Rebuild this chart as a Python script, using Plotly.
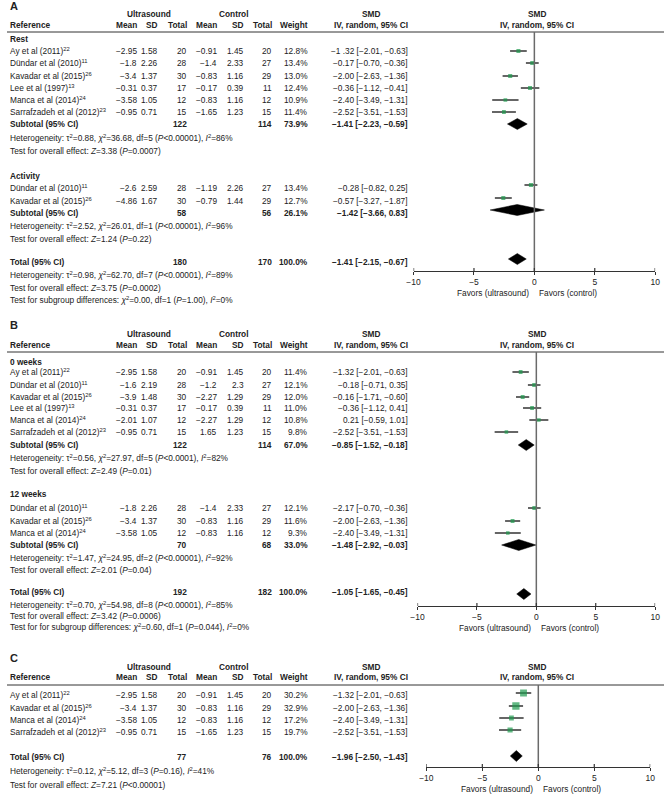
import plotly.graph_objects as go

W, H = 669, 794
FONT = "Liberation Sans, Arial, Helvetica, sans-serif"
MINUS = "\u2212"
GREEN = "#1f9a4f"
INK = "#222222"
LINE = "#333333"
FS = 8.3

# ======================= DATA =======================
# ---- Panel A : Rest ----
a_rest_study = ["Ay et al (2011)", "Dündar et al (2010)", "Kavadar et al (2015)",
                "Lee et al (1997)", "Manca et al (2014)", "Sarrafzadeh et al (2012)"]
a_rest_ref = [22, 11, 26, 13, 24, 23]
a_rest_us_mean = [-2.95, -1.8, -3.4, -0.31, -3.58, -0.95]
a_rest_us_sd = [1.58, 2.26, 1.37, 0.37, 1.05, 0.71]
a_rest_us_n = [20, 28, 30, 17, 12, 15]
a_rest_ct_mean = [-0.91, -1.4, -0.83, -0.17, -0.83, -1.65]
a_rest_ct_sd = [1.45, 2.33, 1.16, 0.39, 1.16, 1.23]
a_rest_ct_n = [20, 27, 29, 11, 12, 15]
a_rest_weight = [12.8, 13.4, 13.0, 12.4, 10.9, 11.4]
a_rest_smd = [-1.32, -0.17, -2.00, -0.36, -2.40, -2.52]
a_rest_lo = [-2.01, -0.70, -2.63, -1.12, -3.49, -3.51]
a_rest_hi = [-0.63, 0.36, -1.36, 0.41, -1.31, -1.53]
a_rest_ci_text = ["−1 .32 [−2.01, −0.63]", "−0.17 [−0.70, −0.36]", "−2.00 [−2.63, −1.36]",
                  "−0.36 [−1.12, −0.41]", "−2.40 [−3.49, −1.31]", "−2.52 [−3.51, −1.53]"]
a_rest_sub_n = [122, 114]
a_rest_sub_weight = 73.9
a_rest_sub_est = [-1.41, -2.23, -0.59]
a_rest_sub_text = "−1.41 [−2.23, −0.59]"
a_rest_stats = ["Heterogeneity: τ<sup>2</sup>=0.88, <i>χ</i><sup>2</sup>=36.68, df=5 (<i>P</i>&lt;0.00001), <i>I</i><sup>2</sup>=86%",
                "Test for overall effect: <i>Z</i>=3.38 (<i>P</i>=0.0007)"]

# ---- Panel A : Activity ----
a_act_study = ["Dündar et al (2010)", "Kavadar et al (2015)"]
a_act_ref = [11, 26]
a_act_us_mean = [-2.6, -4.86]
a_act_us_sd = [2.59, 1.67]
a_act_us_n = [28, 30]
a_act_ct_mean = [-1.19, -0.79]
a_act_ct_sd = [2.26, 1.44]
a_act_ct_n = [27, 29]
a_act_weight = [13.4, 12.7]
a_act_smd = [-0.28, -2.57]
a_act_lo = [-0.82, -3.27]
a_act_hi = [0.25, -1.87]
a_act_ci_text = ["−0.28 [−0.82, 0.25]", "−0.57 [−3.27, −1.87]"]
a_act_sub_n = [58, 56]
a_act_sub_weight = 26.1
a_act_sub_est = [-1.42, -3.66, 0.83]
a_act_sub_text = "−1.42 [−3.66, 0.83]"
a_act_stats = ["Heterogeneity: τ<sup>2</sup>=2.52, <i>χ</i><sup>2</sup>=26.01, df=1 (<i>P</i>&lt;0.00001), <i>I</i><sup>2</sup>=96%",
               "Test for overall effect: <i>Z</i>=1.24 (<i>P</i>=0.22)"]

# ---- Panel A : Total ----
a_tot_n = [180, 170]
a_tot_weight = 100.0
a_tot_est = [-1.41, -2.15, -0.67]
a_tot_text = "−1.41 [−2.15, −0.67]"
a_tot_stats = ["Heterogeneity: τ<sup>2</sup>=0.98, <i>χ</i><sup>2</sup>=62.70, df=7 (<i>P</i>&lt;0.00001), <i>I</i><sup>2</sup>=89%",
               "Test for overall effect: <i>Z</i>=3.75 (<i>P</i>=0.0002)",
               "Test for subgroup differences: <i>χ</i><sup>2</sup>=0.00, df=1 (<i>P</i>=1.00), <i>I</i><sup>2</sup>=0%"]

# ---- Panel B : 0 weeks ----
b_w0_study = ["Ay et al (2011)", "Dündar et al (2010)", "Kavadar et al (2015)",
              "Lee et al (1997)", "Manca et al (2014)", "Sarrafzadeh et al (2012)"]
b_w0_ref = [22, 11, 26, 13, 24, 23]
b_w0_us_mean = [-2.95, -1.6, -3.9, -0.31, -2.01, -0.95]
b_w0_us_sd = [1.58, 2.19, 1.48, 0.37, 1.07, 0.71]
b_w0_us_n = [20, 28, 30, 17, 12, 15]
b_w0_ct_mean = [-0.91, -1.2, -2.27, -0.17, -2.27, 1.65]
b_w0_ct_sd = [1.45, 2.3, 1.29, 0.39, 1.29, 1.23]
b_w0_ct_n = [20, 27, 29, 11, 12, 15]
b_w0_weight = [11.4, 12.1, 12.0, 11.0, 10.8, 9.8]
b_w0_smd = [-1.32, -0.18, -1.15, -0.36, 0.21, -2.52]
b_w0_lo = [-2.01, -0.71, -1.71, -1.12, -0.59, -3.51]
b_w0_hi = [-0.63, 0.35, -0.60, 0.41, 1.01, -1.53]
b_w0_ci_text = ["−1.32 [−2.01, −0.63]", "−0.18 [−0.71, 0.35]", "−0.16 [−1.71, −0.60]",
                "−0.36 [−1.12, 0.41]", "0.21 [−0.59, 1.01]", "−2.52 [−3.51, −1.53]"]
b_w0_sub_n = [122, 114]
b_w0_sub_weight = 67.0
b_w0_sub_est = [-0.85, -1.52, -0.18]
b_w0_sub_text = "−0.85 [−1.52, −0.18]"
b_w0_stats = ["Heterogeneity: τ<sup>2</sup>=0.56, <i>χ</i><sup>2</sup>=27.97, df=5 (<i>P</i>&lt;0.0001), <i>I</i><sup>2</sup>=82%",
              "Test for overall effect: <i>Z</i>=2.49 (<i>P</i>=0.01)"]

# ---- Panel B : 12 weeks ----
b_w12_study = ["Dündar et al (2010)", "Kavadar et al (2015)", "Manca et al (2014)"]
b_w12_ref = [11, 26, 24]
b_w12_us_mean = [-1.8, -3.4, -3.58]
b_w12_us_sd = [2.26, 1.37, 1.05]
b_w12_us_n = [28, 30, 12]
b_w12_ct_mean = [-1.4, -0.83, -0.83]
b_w12_ct_sd = [2.33, 1.16, 1.16]
b_w12_ct_n = [27, 29, 12]
b_w12_weight = [12.1, 11.6, 9.3]
b_w12_smd = [-0.17, -2.00, -2.40]
b_w12_lo = [-0.70, -2.63, -3.49]
b_w12_hi = [0.36, -1.36, -1.31]
b_w12_ci_text = ["−2.17 [−0.70, −0.36]", "−2.00 [−2.63, −1.36]", "−2.40 [−3.49, −1.31]"]
b_w12_sub_n = [70, 68]
b_w12_sub_weight = 33.0
b_w12_sub_est = [-1.48, -2.92, -0.03]
b_w12_sub_text = "−1.48 [−2.92, −0.03]"
b_w12_stats = ["Heterogeneity: τ<sup>2</sup>=1.47, <i>χ</i><sup>2</sup>=24.95, df=2 (<i>P</i>&lt;0.00001), <i>I</i><sup>2</sup>=92%",
               "Test for overall effect: <i>Z</i>=2.01 (<i>P</i>=0.04)"]

# ---- Panel B : Total ----
b_tot_n = [192, 182]
b_tot_weight = 100.0
b_tot_est = [-1.05, -1.65, -0.45]
b_tot_text = "−1.05 [−1.65, −0.45]"
b_tot_stats = ["Heterogeneity: τ<sup>2</sup>=0.70, <i>χ</i><sup>2</sup>=54.98, df=8 (<i>P</i>&lt;0.00001), <i>I</i><sup>2</sup>=85%",
               "Test for overall effect: <i>Z</i>=3.42 (<i>P</i>=0.0006)",
               "Test for for subgroup differences: <i>χ</i><sup>2</sup>=0.60, df=1 (<i>P</i>=0.044), <i>I</i><sup>2</sup>=0%"]

# ---- Panel C ----
c_study = ["Ay et al (2011)", "Kavadar et al (2015)", "Manca et al (2014)", "Sarrafzadeh et al (2012)"]
c_ref = [22, 26, 24, 23]
c_us_mean = [-2.95, -3.4, -3.58, -0.95]
c_us_sd = [1.58, 1.37, 1.05, 0.71]
c_us_n = [20, 30, 12, 15]
c_ct_mean = [-0.91, -0.83, -0.83, -1.65]
c_ct_sd = [1.45, 1.16, 1.16, 1.23]
c_ct_n = [20, 29, 12, 15]
c_weight = [30.2, 32.9, 17.2, 19.7]
c_smd = [-1.32, -2.00, -2.40, -2.52]
c_lo = [-2.01, -2.63, -3.49, -3.51]
c_hi = [-0.63, -1.36, -1.31, -1.53]
c_ci_text = ["−1.32 [−2.01, −0.63]", "−2.00 [−2.63, −1.36]", "−2.40 [−3.49, −1.31]", "−2.52 [−3.51, −1.53]"]
c_tot_n = [77, 76]
c_tot_weight = 100.0
c_tot_est = [-1.96, -2.50, -1.43]
c_tot_text = "−1.96 [−2.50, −1.43]"
c_tot_stats = ["Heterogeneity: τ<sup>2</sup>=0.12, <i>χ</i><sup>2</sup>=5.12, df=3 (<i>P</i>=0.16), <i>I</i><sup>2</sup>=41%",
               "Test for overall effect: <i>Z</i>=7.21 (<i>P</i>&lt;0.00001)"]

axis_ticks = [-10, -5, 0, 5, 10]
axis_ticktext = ["−10", "−5", "0", "5", "10"]

# ======================= LAYOUT (pixel positions) =======================
X_REF = 2.5
X_US_MEAN, X_US_SD, X_US_N = 133.5, 155, 184.5
X_CT_MEAN, X_CT_SD, X_CT_N = 214.5, 242.5, 270.5
X_W = 307.5
X_CI = 409.5
X_SMD_HDR = 371
X_US_HDR, X_CT_HDR = 145, 231
X_FOREST_HDR = 540

annotations, shapes, traces = [], [], []


def fmt(v):
    return str(v).replace("-", MINUS)


def txt(x, y, s, anchor="right", bold=False, size=FS, xref="x", xshift=0):
    annotations.append(dict(
        x=x, y=y, xref=xref, yref="y", text=f"<b>{s}</b>" if bold else s,
        showarrow=False, xanchor=anchor, yanchor="middle", xshift=xshift, borderpad=0,
        font=dict(family=FONT, size=size, color=INK)))


def hline(y):
    shapes.append(dict(type="line", xref="paper", yref="y", x0=0, x1=1, y0=y, y1=y,
                       line=dict(color=LINE, width=1)))


def panel_header(letter, y_letter, y_grp, y_col, y_line):
    txt(2, y_letter, letter, "left", True, 11)
    txt(X_US_HDR, y_grp, "Ultrasound", "center", True)
    txt(X_CT_HDR, y_grp, "Control", "center", True)
    txt(X_SMD_HDR, y_grp, "SMD", "center", True)
    txt(X_FOREST_HDR, y_grp, "SMD", "center", True)
    txt(X_REF, y_col, "Reference", "left", True)
    for x, s in [(X_US_MEAN, "Mean"), (X_US_SD, "SD"), (X_US_N, "Total"),
                 (X_CT_MEAN, "Mean"), (X_CT_SD, "SD"), (X_CT_N, "Total"), (X_W, "Weight")]:
        txt(x, y_col, s, "right", True)
    txt(X_SMD_HDR, y_col, "IV, random, 95% CI", "center", True)
    txt(X_FOREST_HDR, y_col, "IV, random, 95% CI", "center", True)
    hline(y_line)


def studies(xa, ys, dy, study, ref, um, usd, un, cm, csd, cn, w, est, lo, hi, ci_text):
    seg_x, seg_y = [], []
    for i, y in enumerate(ys):
        txt(X_REF, y, f"{study[i]}<sup>{ref[i]}</sup>", "left")
        txt(X_US_MEAN, y, fmt(um[i]))
        txt(X_US_SD, y, fmt(usd[i]))
        txt(X_US_N, y, fmt(un[i]))
        txt(X_CT_MEAN, y, fmt(cm[i]))
        txt(X_CT_SD, y, fmt(csd[i]))
        txt(X_CT_N, y, fmt(cn[i]))
        txt(X_W, y, f"{w[i]:.1f}%")
        txt(X_CI, y, ci_text[i])
        seg_x += [lo[i], hi[i], None]
        seg_y += [y + dy, y + dy, None]
    traces.append(go.Scatter(x=seg_x, y=seg_y, xaxis=xa, yaxis="y", mode="lines",
                             line=dict(color=LINE, width=1.5), hoverinfo="skip"))
    traces.append(go.Scatter(x=est, y=[y + dy for y in ys], xaxis=xa, yaxis="y", mode="markers",
                             marker=dict(symbol="square", color=GREEN,
                                         size=[2 + 0.16 * v for v in w], line=dict(width=0))))


def pooled(xa, y, dy, label, n, weight, est, ci_text):
    txt(X_REF, y, label, "left", True)
    txt(X_US_N, y, fmt(n[0]), "right", True)
    txt(X_CT_N, y, fmt(n[1]), "right", True)
    txt(X_W, y, f"{weight:.1f}%", "right", True)
    txt(X_CI, y, ci_text, "right", True)
    m, l, h = est
    yy = y + dy
    traces.append(go.Scatter(x=[l, m, h, m, l], y=[yy, yy - 5.5, yy, yy + 5.5, yy],
                             xaxis=xa, yaxis="y", mode="lines", fill="toself",
                             fillcolor="black", line=dict(color="black", width=0.5),
                             hoverinfo="skip"))


def stats(ys, lines):
    for y, s in zip(ys, lines):
        txt(X_REF, y, s, "left")


def forest_axis(name, y_top, y_axis, y_fav):
    shapes.append(dict(type="line", xref=name, yref="y", x0=0, x1=0, y0=y_top, y1=y_axis,
                       line=dict(color="#6a6a6a", width=1.5)))
    for t in axis_ticks:
        shapes.append(dict(type="line", xref=name, yref="y", x0=t, x1=t,
                           y0=y_axis - 3, y1=y_axis, line=dict(color=LINE, width=1.2)))
    txt(0, y_fav, "Favors (ultrasound)", "right", xref=name, xshift=-4)
    txt(0, y_fav, "Favors (control)", "left", xref=name, xshift=4)


# ---------------- Panel A ----------------
panel_header("A", 6, 14, 25, 32)
txt(X_REF, 39, "Rest", "left", True)
studies("x2", [51, 63, 76, 88, 100, 112], 0, a_rest_study, a_rest_ref, a_rest_us_mean, a_rest_us_sd,
        a_rest_us_n, a_rest_ct_mean, a_rest_ct_sd, a_rest_ct_n, a_rest_weight,
        a_rest_smd, a_rest_lo, a_rest_hi, a_rest_ci_text)
pooled("x2", 124, 0, "Subtotal (95% CI)", a_rest_sub_n, a_rest_sub_weight, a_rest_sub_est, a_rest_sub_text)
stats([138, 151], a_rest_stats)
txt(X_REF, 176, "Activity", "left", True)
studies("x2", [188, 201], -3, a_act_study, a_act_ref, a_act_us_mean, a_act_us_sd, a_act_us_n,
        a_act_ct_mean, a_act_ct_sd, a_act_ct_n, a_act_weight, a_act_smd, a_act_lo, a_act_hi,
        a_act_ci_text)
pooled("x2", 212.5, -2.5, "Subtotal (95% CI)", a_act_sub_n, a_act_sub_weight, a_act_sub_est, a_act_sub_text)
stats([226, 239], a_act_stats)
pooled("x2", 262, -3, "Total (95% CI)", a_tot_n, a_tot_weight, a_tot_est, a_tot_text)
stats([275, 288, 300], a_tot_stats)
forest_axis("x2", 32, 271, 293)

# ---------------- Panel B ----------------
panel_header("B", 325, 334, 345, 352)
txt(X_REF, 362, "0 weeks", "left", True)
studies("x3", [372, 385, 397, 408, 420, 432], 0, b_w0_study, b_w0_ref, b_w0_us_mean, b_w0_us_sd,
        b_w0_us_n, b_w0_ct_mean, b_w0_ct_sd, b_w0_ct_n, b_w0_weight, b_w0_smd, b_w0_lo, b_w0_hi,
        b_w0_ci_text)
pooled("x3", 445, 0, "Subtotal (95% CI)", b_w0_sub_n, b_w0_sub_weight, b_w0_sub_est, b_w0_sub_text)
stats([458, 471], b_w0_stats)
txt(X_REF, 494, "12 weeks", "left", True)
studies("x3", [508, 521, 533], 0, b_w12_study, b_w12_ref, b_w12_us_mean, b_w12_us_sd, b_w12_us_n,
        b_w12_ct_mean, b_w12_ct_sd, b_w12_ct_n, b_w12_weight, b_w12_smd, b_w12_lo, b_w12_hi,
        b_w12_ci_text)
pooled("x3", 545, 0, "Subtotal (95% CI)", b_w12_sub_n, b_w12_sub_weight, b_w12_sub_est, b_w12_sub_text)
stats([558, 570], b_w12_stats)
pooled("x3", 592, 2, "Total (95% CI)", b_tot_n, b_tot_weight, b_tot_est, b_tot_text)
stats([605, 616, 627], b_tot_stats)
forest_axis("x3", 352, 606, 628)

# ---------------- Panel C ----------------
panel_header("C", 658, 667, 677, 685)
studies("x4", [695, 708, 720, 732], -2, c_study, c_ref, c_us_mean, c_us_sd, c_us_n, c_ct_mean,
        c_ct_sd, c_ct_n, c_weight, c_smd, c_lo, c_hi, c_ci_text)
pooled("x4", 757, -1, "Total (95% CI)", c_tot_n, c_tot_weight, c_tot_est, c_tot_text)
stats([771, 785], c_tot_stats)
forest_axis("x4", 685, 767, 789)

fig = go.Figure(traces)


def forest_xaxis(x0, x1, y_axis):
    return dict(domain=[x0 / W, x1 / W], range=[-10, 10], anchor="free", position=1 - y_axis / H,
                showline=True, linecolor=LINE, linewidth=1.2, ticks="outside", ticklen=3,
                tickcolor=LINE, tickwidth=1.2, tickvals=axis_ticks, ticktext=axis_ticktext,
                tickfont=dict(family=FONT, size=8.5, color=INK), showgrid=False, zeroline=False,
                fixedrange=True)


fig.update_layout(
    width=W, height=H, margin=dict(l=0, r=0, t=0, b=0),
    paper_bgcolor="white", plot_bgcolor="rgba(0,0,0,0)", showlegend=False,
    xaxis=dict(range=[0, W], domain=[0, 1], visible=False, fixedrange=True),
    yaxis=dict(range=[H, 0], domain=[0, 1], visible=False, fixedrange=True),
    xaxis2=forest_xaxis(414, 660, 271),
    xaxis3=forest_xaxis(418, 660, 606),
    xaxis4=forest_xaxis(427, 655, 767),
    annotations=annotations, shapes=shapes,
)

fig.write_html("out.html", config={"displayModeBar": False},
               post_script="document.body.style.margin='0px';document.body.style.overflow='hidden';")
